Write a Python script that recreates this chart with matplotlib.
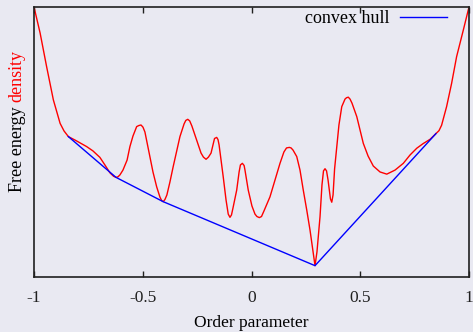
import matplotlib
matplotlib.use('Agg')
import matplotlib.pyplot as plt

# free energy density curve (y in arbitrary units, 0..1)
order_param = [
    -1.000, -0.972, -0.942, -0.911, -0.880, -0.862, -0.842, -0.811, -0.789, -0.758,
    -0.729, -0.697, -0.674, -0.651, -0.634, -0.623, -0.614, -0.605, -0.591, -0.572,
    -0.559, -0.545, -0.528, -0.518, -0.508, -0.499, -0.490, -0.467, -0.453, -0.436,
    -0.421, -0.413, -0.406, -0.398, -0.389, -0.375, -0.360, -0.343, -0.329, -0.310,
    -0.302, -0.293, -0.284, -0.274, -0.252, -0.232, -0.221, -0.209, -0.198, -0.186,
    -0.170, -0.160, -0.154, -0.149, -0.140, -0.130, -0.117, -0.107, -0.099, -0.092,
    -0.085, -0.068, -0.057, -0.051, -0.042, -0.034, -0.030, -0.015, 0.002, 0.016,
    0.025, 0.036, 0.046, 0.057, 0.085, 0.108, 0.131, 0.149, 0.161, 0.174,
    0.182, 0.191, 0.208, 0.223, 0.238, 0.254, 0.269, 0.283, 0.292, 0.301,
    0.315, 0.324, 0.331, 0.338, 0.345, 0.352, 0.363, 0.369, 0.375, 0.382,
    0.392, 0.402, 0.415, 0.430, 0.437, 0.445, 0.453, 0.462, 0.484, 0.499,
    0.514, 0.536, 0.560, 0.591, 0.622, 0.660, 0.698, 0.729, 0.760, 0.789,
    0.821, 0.848, 0.862, 0.874, 0.897, 0.920, 0.943, 0.974, 1.000,
]
free_energy = [
    1.000, 0.904, 0.779, 0.656, 0.569, 0.541, 0.520, 0.507, 0.497, 0.483,
    0.467, 0.443, 0.415, 0.386, 0.373, 0.369, 0.371, 0.378, 0.396, 0.433,
    0.483, 0.522, 0.557, 0.561, 0.563, 0.555, 0.537, 0.446, 0.389, 0.334,
    0.296, 0.283, 0.279, 0.287, 0.304, 0.352, 0.409, 0.470, 0.520, 0.567,
    0.580, 0.584, 0.578, 0.559, 0.507, 0.459, 0.444, 0.436, 0.444, 0.459,
    0.513, 0.517, 0.509, 0.489, 0.433, 0.371, 0.285, 0.233, 0.221, 0.230,
    0.256, 0.322, 0.389, 0.415, 0.421, 0.413, 0.396, 0.322, 0.263, 0.233,
    0.224, 0.220, 0.224, 0.244, 0.297, 0.359, 0.421, 0.463, 0.478, 0.480,
    0.478, 0.470, 0.446, 0.396, 0.322, 0.248, 0.174, 0.093, 0.042, 0.093,
    0.223, 0.341, 0.393, 0.401, 0.393, 0.359, 0.289, 0.277, 0.304, 0.400,
    0.483, 0.563, 0.631, 0.659, 0.664, 0.666, 0.659, 0.644, 0.594, 0.544,
    0.495, 0.448, 0.411, 0.389, 0.381, 0.396, 0.421, 0.452, 0.477, 0.494,
    0.510, 0.531, 0.542, 0.562, 0.631, 0.717, 0.816, 0.915, 1.000,
]

# convex hull vertices
hull_x = [-0.842, -0.623, -0.406, 0.292, 0.848]
hull_y = [0.520, 0.369, 0.279, 0.042, 0.531]

xticks = [-1, -0.5, 0, 0.5, 1]
xtick_labels = ['-1', '-0.5', '0', '0.5', '1']

bg = '#e9e9f2'
plt.rcParams['font.family'] = ['Liberation Serif', 'DejaVu Serif']

fig = plt.figure(figsize=(4.73, 3.32), dpi=100, facecolor=bg)
ax = fig.add_axes([34 / 473, 55 / 332, 435 / 473, 270 / 332])
ax.set_facecolor(bg)

ax.plot(order_param, free_energy, color='#ff0000', lw=1.0)
ax.plot(hull_x, hull_y, color='#0000ff', lw=1.0, label='convex hull')

ax.set_xlim(-1, 1)
ax.set_ylim(0, 1)
ax.set_xticks(xticks)
ax.set_xticklabels(xtick_labels)
ax.set_yticks([])
ax.tick_params(axis='x', direction='in', top=True, length=4, width=1,
               labelsize=12.5, pad=9, colors='#202020')
for s in ax.spines.values():
    s.set_linewidth(1.2)
    s.set_color('#202020')

ax.set_xlabel('Order parameter', fontsize=12.5, labelpad=6.5)

# two-colour y label
t1 = fig.text(17 / 473, (332 - 192) / 332, 'Free energy', rotation=90,
              ha='center', va='bottom', fontsize=13)
ax.annotate('density', xy=(0.5, 1), xycoords=t1, xytext=(0, 3),
            textcoords='offset points', rotation=90, ha='center', va='bottom',
            fontsize=13, color='#ff0000', annotation_clip=False)

ax.legend(loc='upper right', bbox_to_anchor=((447 - 34) / 435, (277 - 10) / 270),
          markerfirst=False, frameon=False, handlelength=2.6, handletextpad=0.6,
          borderaxespad=0, borderpad=0, fontsize=13)

fig.savefig('out.png', dpi=100, facecolor=bg)
plt.close(fig)
